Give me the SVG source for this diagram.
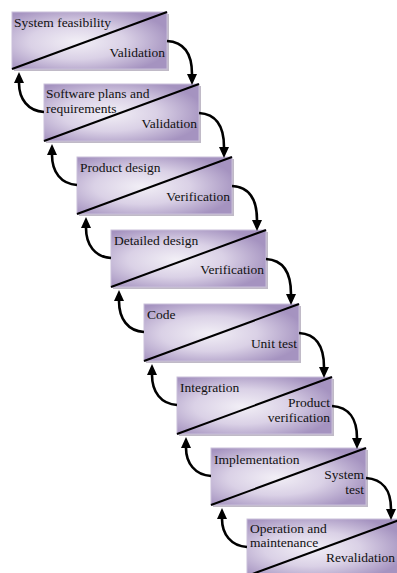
<svg xmlns="http://www.w3.org/2000/svg" width="397" height="573" viewBox="0 0 397 573">
  <defs>
    <radialGradient id="stepFill" cx="0.42" cy="0.52" r="0.62">
      <stop offset="0" stop-color="#f2eff6"/>
      <stop offset="0.5" stop-color="#dad1e6"/>
      <stop offset="1" stop-color="#a593c0"/>
    </radialGradient>
    <marker id="head" viewBox="0 0 11 10" refX="0" refY="5" markerWidth="11" markerHeight="10" markerUnits="userSpaceOnUse" orient="auto">
      <path d="M0,0 L11,5 L0,10 z" fill="#000"/>
    </marker>
    <symbol id="stepBox" overflow="visible">
      <rect x="2" y="2" width="155" height="57" fill="#c0bac7"/>
      <rect x="0" y="0" width="155" height="57" fill="url(#stepFill)" stroke="#c9bfda" stroke-width="1"/>
      <line x1="0" y1="57" x2="155" y2="0" stroke="#000" stroke-width="2"/>
    </symbol>
  </defs>
  <style>
    text { font-family: "Liberation Serif", "Times New Roman", serif; font-size: 13.5px; fill: #111; }
    .r { text-anchor: end; }
    .conn path { fill: none; stroke: #000; stroke-width: 2.6; marker-end: url(#head); }
  </style>

  <g id="step-feasibility" transform="translate(12,12)">
    <use href="#stepBox"/>
    <text x="2" y="15">System feasibility</text>
    <text class="r" x="153" y="45">Validation</text>
  </g>
  <g id="step-plans" transform="translate(44,84)">
    <use href="#stepBox"/>
    <text x="2" y="14">Software plans and</text>
    <text x="2" y="29">requirements</text>
    <text class="r" x="153" y="44">Validation</text>
  </g>
  <g id="step-product-design" transform="translate(77,157)">
    <use href="#stepBox"/>
    <text x="3" y="15">Product design</text>
    <text class="r" x="153" y="44">Verification</text>
  </g>
  <g id="step-detailed-design" transform="translate(111,230)">
    <use href="#stepBox"/>
    <text x="3" y="15">Detailed design</text>
    <text class="r" x="153" y="44">Verification</text>
  </g>
  <g id="step-code" transform="translate(144,304)">
    <use href="#stepBox"/>
    <text x="3" y="15">Code</text>
    <text class="r" x="153" y="44">Unit test</text>
  </g>
  <g id="step-integration" transform="translate(177,377)">
    <use href="#stepBox"/>
    <text x="3" y="15">Integration</text>
    <text class="r" x="153" y="30">Product</text>
    <text class="r" x="153" y="45">verification</text>
  </g>
  <g id="step-implementation" transform="translate(211,448)">
    <use href="#stepBox"/>
    <text x="3" y="16">Implementation</text>
    <text class="r" x="153" y="31">System</text>
    <text class="r" x="153" y="46">test</text>
  </g>
  <g id="step-operation" transform="translate(247,519)">
    <use href="#stepBox"/>
    <text x="3" y="14">Operation and</text>
    <text x="3" y="28">maintenance</text>
    <text class="r" x="148" y="43">Revalidation</text>
  </g>

  <g id="connectors" class="conn">
    <!-- forward flow: right edge of each step down to the next -->
    <path d="M167,41 C184,42 192,54 192,74"/>
    <path d="M199,113 C216,114 224,126 224,147"/>
    <path d="M232,186 C249,187 257,199 257,220"/>
    <path d="M266,259 C283,260 291,272 291,294"/>
    <path d="M299,333 C316,334 324,346 324,367"/>
    <path d="M332,406 C349,407 357,419 357,438"/>
    <path d="M366,478 C383,479 391,491 391,509"/>
    <!-- feedback: left edge of each step back up to the previous -->
    <path d="M44,112 C28,111 19,99 19,83"/>
    <path d="M77,185 C61,184 52,172 52,155"/>
    <path d="M111,258 C95,257 86,245 86,228"/>
    <path d="M144,332 C128,331 119,319 119,301"/>
    <path d="M177,405 C161,404 152,392 152,375"/>
    <path d="M211,476 C195,475 186,463 186,448"/>
    <path d="M247,547 C231,546 222,534 222,519"/>
  </g>
</svg>
